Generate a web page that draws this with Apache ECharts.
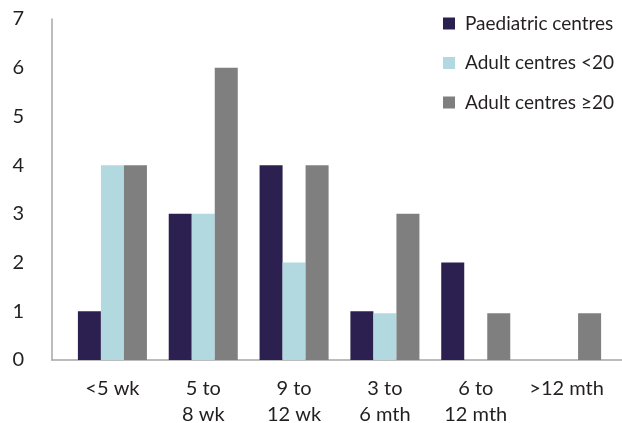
<!DOCTYPE html>
<html><head><meta charset="utf-8">
<script src="https://cdn.jsdelivr.net/npm/echarts@6/dist/echarts.min.js"></script>
<style>html,body{margin:0;padding:0;background:#fff}#c{width:622px;height:423px}</style>
</head><body><div id="c"></div>
<script>
const categories = ['<5 wk', '5 to\n8 wk', '9 to\n12 wk', '3 to\n6 mth', '6 to\n12 mth', '>12 mth'];
const paediatric = [1, 3, 4, 1, 2, 0];
const adultLt20 = [4, 3, 2, 0.96, 0, 0];
const adultGe20 = [4, 6, 4, 3, 0.96, 0.96];
const yTicks = [0, 1, 2, 3, 4, 5, 6, 7];
const seriesNames = ['Paediatric centres', 'Adult centres <20', 'Adult centres \u226520'];
const colors = ['#2c2050', '#b2d8e0', '#7f7f7f'];

const font = 'Lato';
const txt = '#231f20';
const chart = echarts.init(document.getElementById('c'));
const mk = (name, data, i) => ({
  name, type: 'bar', data, xAxisIndex: 0, yAxisIndex: 0,
  itemStyle: { color: colors[i] }, barGap: '0%', barCategoryGap: '24%'
});
chart.setOption({
  animation: false,
  textStyle: { fontFamily: font },
  grid: [
    { left: 67, right: 10, top: 19, bottom: 63, outerBoundsMode: 'none', containLabel: false },
    { left: 52, right: 0, top: 19, bottom: 63, outerBoundsMode: 'none', containLabel: false }
  ],
  legend: {
    orient: 'vertical', left: 438, top: 9, itemWidth: 12, itemHeight: 12, itemGap: 20.5,
    icon: 'rect', data: seriesNames,
    textStyle: { fontFamily: font, fontSize: 19, color: txt, padding: [0, 0, 0, 5] }
  },
  xAxis: [
    { type: 'category', data: categories, gridIndex: 0,
      axisLine: { show: false }, axisTick: { show: false },
      axisLabel: { color: txt, fontSize: 20, fontFamily: font, margin: 16, lineHeight: 26, interval: 0 } },
    { type: 'value', gridIndex: 1, min: 0, max: 1,
      axisLine: { show: true, lineStyle: { color: '#a6a6a6', width: 1.5 } },
      axisTick: { show: false }, axisLabel: { show: false }, splitLine: { show: false } }
  ],
  yAxis: [
    { type: 'value', gridIndex: 0, min: yTicks[0], max: yTicks[yTicks.length - 1], interval: 1, offset: 15,
      axisLine: { show: true, lineStyle: { color: '#a6a6a6', width: 1.5 } },
      axisTick: { show: false }, splitLine: { show: false },
      axisLabel: { color: txt, fontSize: 20, fontFamily: font, margin: 28, align: 'right' } },
    { type: 'value', gridIndex: 1, show: false, min: 0, max: 1 }
  ],
  series: [
    mk(seriesNames[0], paediatric, 0),
    mk(seriesNames[1], adultLt20, 1),
    mk(seriesNames[2], adultGe20, 2)
  ]
});
</script></body></html>
